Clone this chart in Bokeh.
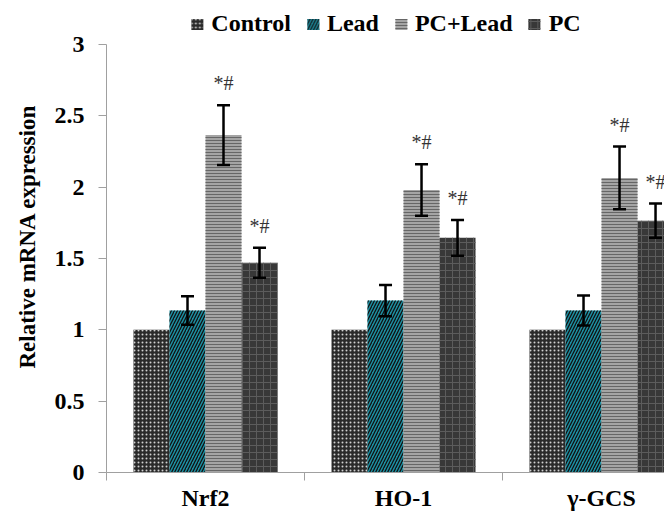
from bokeh.plotting import figure
from bokeh.models import (ColumnDataSource, Range1d, FixedTicker, Whisker, TeeHead,
                          Legend, LegendItem)
from bokeh.core.properties import value
from bokeh.embed import file_html
from bokeh.resources import INLINE

# ---- data ----
categories = ["Nrf2", "HO-1", "γ-GCS"]
series_names = ["Control", "Lead", "PC+Lead", "PC"]
control = [1.0, 1.0, 1.0]
lead = [1.135, 1.205, 1.135]
pc_lead = [2.365, 1.98, 2.065]
pc = [1.47, 1.645, 1.765]
lead_err = [0.10, 0.11, 0.105]
pc_lead_err = [0.21, 0.18, 0.22]
pc_err = [0.105, 0.125, 0.12]
pc_lead_mark = ["*#", "*#", "*#"]
pc_mark = ["*#", "*#", "*#"]
y_ticks = [0, 0.5, 1, 1.5, 2, 2.5, 3]
y_tick_labels = ["0", "0.5", "1", "1.5", "2", "2.5", "3"]

values = [control, lead, pc_lead, pc]
errors = [None, lead_err, pc_lead_err, pc_err]
marks = [None, None, pc_lead_mark, pc_mark]

styles = [
    dict(fill_color="#2a2a2a", hatch_pattern="dot", hatch_color="#d0d0d0", hatch_scale=4, hatch_weight=2),
    dict(fill_color="#1b90a3", hatch_pattern="/", hatch_color="#111111", hatch_scale=6, hatch_weight=1.3),
    dict(fill_color="#a4a4a4", hatch_pattern="-", hatch_color="#666666", hatch_scale=3, hatch_weight=1),
    dict(fill_color="#383838", hatch_pattern="+", hatch_color="#5c5c5c", hatch_scale=7, hatch_weight=1),
]

FONT = "Liberation Serif"
AXIS_COLOR = "#a0a0a0"

n = len(series_names)
gap = 1.5
unit = 1.0 / (n + gap)

W, H = 664, 515
B_LEFT, B_BOTTOM = 106, 43
AXIS_TOP_PX = 44  # pixel row of the value 3
frame_h = H - B_BOTTOM
y_top = y_ticks[-1] * frame_h / (frame_h - AXIS_TOP_PX)

p = figure(width=W, height=H, output_backend="svg", toolbar_location=None,
           x_range=Range1d(0, 2.818), y_range=Range1d(0, y_top),
           min_border_left=B_LEFT, min_border_right=0, min_border_top=0, min_border_bottom=B_BOTTOM)
p.outline_line_color = None
p.xgrid.visible = False
p.ygrid.visible = False
p.background_fill_color = "white"

legend_items = []
for j, name in enumerate(series_names):
    xs = [i + gap / 2 * unit + (j + 0.5) * unit for i in range(len(categories))]
    src = ColumnDataSource(dict(x=xs, top=values[j]))
    r = p.vbar(x="x", top="top", width=unit, bottom=0, source=src, line_color=None, **styles[j])
    legend_items.append(LegendItem(label=name, renderers=[r]))
    if errors[j] is not None:
        up = [v + e for v, e in zip(values[j], errors[j])]
        lo = [v - e for v, e in zip(values[j], errors[j])]
        esrc = ColumnDataSource(dict(x=xs, upper=up, lower=lo))
        w = Whisker(base="x", upper="upper", lower="lower", source=esrc, level="overlay",
                    line_color="black", line_width=2.5,
                    upper_head=TeeHead(size=13, line_width=2.5, line_color="black"),
                    lower_head=TeeHead(size=13, line_width=2.5, line_color="black"))
        p.add_layout(w)
    if marks[j] is not None:
        up = [v + e for v, e in zip(values[j], errors[j])]
        msrc = ColumnDataSource(dict(x=xs, y=up, t=marks[j]))
        p.text(x="x", y="y", text="t", source=msrc, text_align="center",
               text_baseline="alphabetic", y_offset=-22,
               text_font=value(FONT), text_font_size="20px", text_color="#333333")

legend = Legend(items=legend_items, orientation="horizontal", location="top_center",
                border_line_color=None, background_fill_alpha=0,
                label_text_font=FONT, label_text_font_style="bold",
                label_text_font_size="24px", label_text_color="black",
                glyph_width=15, glyph_height=14, spacing=14, label_standoff=7,
                padding=0, margin=10)
p.add_layout(legend, "center")

# axes
xa = p.xaxis[0]
xa.ticker = FixedTicker(ticks=[0.5, 1.5, 2.5], minor_ticks=[0, 1, 2])
xa.major_label_overrides = {0.5: categories[0], 1.5: categories[1], 2.5: categories[2]}
xa.major_tick_out = 0
xa.major_tick_in = 0
xa.minor_tick_out = 8
xa.minor_tick_in = 0
xa.minor_tick_line_color = AXIS_COLOR
xa.axis_line_color = AXIS_COLOR
xa.major_label_text_font = FONT
xa.major_label_text_font_style = "bold"
xa.major_label_text_font_size = "24px"
xa.major_label_text_color = "black"
xa.major_label_standoff = 4

ya = p.yaxis[0]
ya.bounds = (y_ticks[0], y_ticks[-1])
ya.ticker = FixedTicker(ticks=y_ticks)
ya.major_label_overrides = {t: l for t, l in zip(y_ticks, y_tick_labels)}
ya.major_tick_out = 8
ya.major_tick_in = 0
ya.minor_tick_out = 0
ya.minor_tick_in = 0
ya.major_tick_line_color = AXIS_COLOR
ya.axis_line_color = AXIS_COLOR
ya.major_label_text_font = FONT
ya.major_label_text_font_style = "bold"
ya.major_label_text_font_size = "24px"
ya.major_label_text_color = "black"
ya.major_label_standoff = 14
ya.axis_label = "Relative mRNA expression"
ya.axis_label_text_font = FONT
ya.axis_label_text_font_style = "bold"
ya.axis_label_text_font_size = "23px"
ya.axis_label_text_color = "black"
ya.axis_label_standoff = 12

open("out.html", "w").write(file_html(p, INLINE))
